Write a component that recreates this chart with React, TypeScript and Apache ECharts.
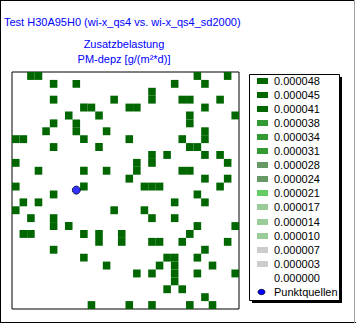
import React, { useEffect, useRef } from "react";
import * as echarts from "echarts";

const titleText = "Test H30A95H0 (wi-x_qs4 vs. wi-x_qs4_sd2000)";
const subTitleLines = ["Zusatzbelastung", "PM-depz [g/(m²*d)]"];

const gridCols = 30;
const gridRows = 30;

// occupied cells: for each row (top to bottom) the column indices
const cellRows: number[][] = [
  [2, 3, 24, 28],
  [5, 8, 21, 25],
  [18],
  [5, 13, 18, 22, 23, 27],
  [9, 10, 15, 16, 25],
  [7, 11, 23, 29],
  [5, 8, 23],
  [4, 8, 12, 25],
  [0, 1, 9, 15, 22, 25],
  [5, 11, 23, 24],
  [18, 20, 25, 27],
  [0, 16, 18, 28],
  [3, 9, 12, 16, 22, 23],
  [15, 25, 28],
  [0, 9, 17, 18, 19, 27],
  [5, 24],
  [1, 3, 21, 25],
  [0, 13, 17],
  [2, 5, 18, 21],
  [5, 7, 24, 29],
  [1, 2, 9, 11, 14, 23],
  [11, 14, 18, 19, 22, 28],
  [5, 25],
  [9, 20, 21, 24],
  [12, 19, 21, 26],
  [16, 18, 21, 24, 29],
  [21],
  [20, 22],
  [25],
  [10, 15, 18, 23, 26],
];
const cellValue = 0.000048;

const pointSources: number[][] = [[8.5, 14.95]];

const legendLabels = [
  "0.000048", "0.000045", "0.000041", "0.000038", "0.000034", "0.000031",
  "0.000028", "0.000024", "0.000021", "0.000017", "0.000014", "0.000010",
  "0.000007", "0.000003", "0.000000",
];
const legendColors = [
  "#006600", "#006600", "#006600", "#339933", "#339933", "#339933",
  "#669966", "#669966", "#66cc66", "#99cc99", "#99cc99", "#99cc99",
  "#cccccc", "#cccccc", "",
];
const pointLabel = "Punktquellen";

const FONT = "'Liberation Sans', Arial, sans-serif";

function colorFor(v: number): string {
  const thresholds = legendLabels.map(Number);
  for (let i = 0; i < thresholds.length; i++) {
    if (v >= thresholds[i]) return legendColors[i] || "#ffffff";
  }
  return "#ffffff";
}

export default function App() {
  const ref = useRef<HTMLDivElement>(null);
  useEffect(() => {
    if (!ref.current) return;
    const chart = echarts.init(ref.current, null, { renderer: "svg" });
    const cells = cellRows.flatMap((cs, r) => cs.map((c) => [c, r, cellValue]));

    const legendX = 249;
    const legendY = 74;
    const legendW = 90;
    const legendH = 226;
    const rowY0 = 81;
    const rowStep = 14.05;

    const legendElems: any[] = [];
    legendLabels.forEach((lab, i) => {
      const cy = rowY0 + rowStep * i;
      if (legendColors[i]) {
        legendElems.push({
          type: "rect",
          shape: { x: 257, y: Math.round(cy) - 3, width: 11, height: 6 },
          style: { fill: legendColors[i] },
        });
      }
      legendElems.push({
        type: "text",
        x: 274,
        y: cy,
        style: {
          text: lab,
          fill: "#000",
          font: `11px ${FONT}`,
          textVerticalAlign: "middle",
        },
      });
    });
    const py = 292;
    legendElems.push({
      type: "ellipse",
      shape: { cx: 261.5, cy: py, rx: 3.5, ry: 2.7 },
      style: { fill: "#0000ff", stroke: "#000033", lineWidth: 0.8 },
    });
    legendElems.push({
      type: "text",
      x: 274,
      y: py,
      style: { text: pointLabel, fill: "#000", font: `11px ${FONT}`, textVerticalAlign: "middle" },
    });

    chart.setOption({
      animation: false,
      backgroundColor: "#ffffff",
      grid: {
        left: 12,
        top: 72,
        width: 227,
        height: 237,
        show: true,
        borderColor: "#000",
        borderWidth: 1,
        backgroundColor: "#fff",
      },
      xAxis: {
        type: "value",
        min: 0,
        max: gridCols,
        show: false,
      },
      yAxis: {
        type: "value",
        min: 0,
        max: gridRows,
        inverse: true,
        show: false,
      },
      series: [
        {
          type: "custom",
          encode: { x: 0, y: 1 },
          data: cells,
          renderItem: (params: any, api: any) => {
            const c = api.value(0);
            const r = api.value(1);
            const v = api.value(2);
            const p0 = api.coord([c, r]);
            const p1 = api.coord([c + 1, r + 1]);
            return {
              type: "rect",
              shape: {
                x: Math.min(p0[0], p1[0]),
                y: Math.min(p0[1], p1[1]),
                width: Math.abs(p1[0] - p0[0]),
                height: Math.abs(p1[1] - p0[1]),
              },
              style: { fill: colorFor(v) },
            };
          },
          z: 2,
        },
        {
          type: "scatter",
          data: pointSources,
          symbol: "circle",
          symbolSize: 8,
          itemStyle: { color: "#0000ff", borderColor: "#000033", borderWidth: 1 },
          z: 5,
        },
      ],
      graphic: [
        // outer frame
        { type: "line", shape: { x1: 0.5, y1: 0, x2: 0.5, y2: 323 }, style: { stroke: "#000", lineWidth: 1 } },
        { type: "line", shape: { x1: 0, y1: 0.5, x2: 355, y2: 0.5 }, style: { stroke: "#000", lineWidth: 1 } },
        { type: "line", shape: { x1: 0, y1: 322.5, x2: 356, y2: 322.5 }, style: { stroke: "#000", lineWidth: 1 } },
        { type: "line", shape: { x1: 354.5, y1: 0, x2: 354.5, y2: 323 }, style: { stroke: "#a0a0a0", lineWidth: 1 } },
        {
          type: "text",
          x: 4,
          y: 22,
          style: { text: titleText, fill: "#0000ff", font: `11px ${FONT}`, textVerticalAlign: "middle" },
        },
        {
          type: "text",
          x: 124,
          y: 44,
          style: { text: subTitleLines[0], fill: "#0000ff", font: `11px ${FONT}`, textAlign: "center", textVerticalAlign: "middle" },
        },
        {
          type: "text",
          x: 124,
          y: 59,
          style: { text: subTitleLines[1], fill: "#0000ff", font: `11px ${FONT}`, textAlign: "center", textVerticalAlign: "middle" },
        },
        // legend shadow & box
        {
          type: "rect",
          shape: { x: legendX + 3, y: legendY + 3, width: legendW, height: legendH },
          style: { fill: "#000" },
        },
        {
          type: "rect",
          shape: { x: legendX + 0.5, y: legendY + 0.5, width: legendW, height: legendH },
          style: { fill: "#fff", stroke: "#000", lineWidth: 1 },
        },
        ...legendElems,
      ],
    });
    return () => chart.dispose();
  }, []);
  return (
    <div
      ref={ref}
      style={{ position: "fixed", left: 0, top: 0, width: 360, height: 327, background: "#fff" }}
    />
  );
}
